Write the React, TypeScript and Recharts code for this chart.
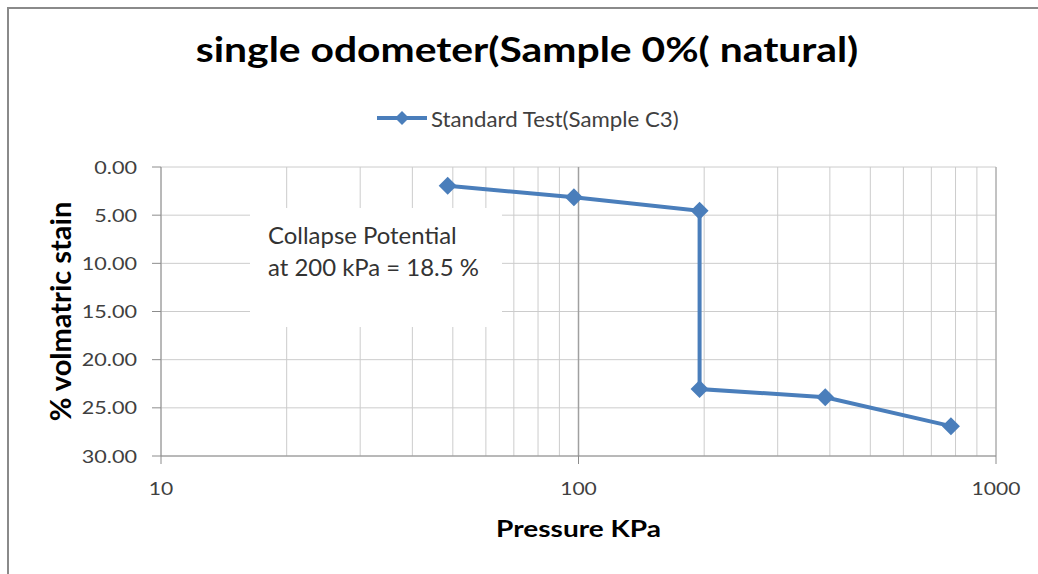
import React from 'react';
import {
  LineChart,
  Line,
  XAxis,
  YAxis,
  CartesianGrid,
  Legend,
  ReferenceLine,
} from 'recharts';

const pressures = [48.6, 97.5, 195, 195, 390, 780];
const strains = [1.95, 3.15, 4.55, 23.05, 23.9, 26.9];
const xTicks = [10, 20, 30, 40, 50, 60, 70, 80, 90, 100, 200, 300, 400, 500, 600, 700, 800, 900, 1000];
const xMajorTicks = [10, 100, 1000];
const yTicks = [0, 5, 10, 15, 20, 25, 30];
const seriesName = 'Standard Test(Sample C3)';
const titleText = 'single odometer(Sample 0%( natural)';
const xLabel = 'Pressure KPa';
const yLabel = '% volmatric stain';
const noteLines = ['Collapse Potential', 'at 200 kPa = 18.5 %'];

const data = pressures.map((p, i) => ({ pressure: p, strain: strains[i] }));

const FONT = 'Lato, "Open Sans", sans-serif';
const BLUE = '#4a7ebb';
const TICK_COLOR = '#404040';

const Diamond = (props: any) => {
  const { cx, cy } = props;
  if (cx == null || cy == null) return null;
  const r = 9;
  return (
    <polygon
      points={`${cx},${cy - r} ${cx + r},${cy} ${cx},${cy + r} ${cx - r},${cy}`}
      fill={BLUE}
      stroke="none"
    />
  );
};

const XTick = (props: any) => {
  const { x, y, payload } = props;
  const v = payload.value;
  if (!xMajorTicks.includes(v)) return null;
  return (
    <g>
      <line x1={x} x2={x} y1={y - 22} y2={y - 14} stroke="#8c8c8c" strokeWidth={1} />
      <text
        transform={`translate(${x},${y + 17}) scale(1.17,1)`}
        x={0}
        y={0}
        textAnchor="middle"
        fontSize={18}
        fill={TICK_COLOR}
        fontFamily={FONT}
      >
        {v}
      </text>
    </g>
  );
};

const YTick = (props: any) => {
  const { x, y, payload } = props;
  return (
    <text
      transform={`translate(${x},${y + 6.5}) scale(1.2,1)`}
      x={0}
      y={0}
      textAnchor="end"
      fontSize={18}
      fill={TICK_COLOR}
      fontFamily={FONT}
    >
      {Number(payload.value).toFixed(2)}
    </text>
  );
};

const XLabel = (props: any) => {
  const { viewBox } = props;
  const cx = viewBox.x + viewBox.width / 2;
  return (
    <text
      transform={`translate(${cx},537) scale(1.22,1)`}
      x={0}
      y={0}
      textAnchor="middle"
      fontSize={23}
      fontWeight={700}
      fill="#000"
      fontFamily={FONT}
    >
      {xLabel}
    </text>
  );
};

const LegendContent = () => (
  <div style={{ display: 'flex', justifyContent: 'center', alignItems: 'center', height: 24, fontFamily: FONT }}>
    <svg width={50} height={20} style={{ marginRight: 4 }}>
      <line x1={0} x2={50} y1={10} y2={10} stroke={BLUE} strokeWidth={4} />
      <polygon points="25,3 32,10 25,17 18,10" fill={BLUE} />
    </svg>
    <span style={{ fontSize: 21, color: TICK_COLOR, display: 'inline-block', transform: 'scaleX(1.06)', transformOrigin: 'left center', width: 248, whiteSpace: 'nowrap' }}>
      {seriesName}
    </span>
  </div>
);

export default function App() {
  return (
    <div style={{ position: 'absolute', left: 0, top: 0, width: 1038, height: 574, background: '#fff', overflow: 'hidden' }}>
      <div
        style={{
          position: 'absolute',
          left: 7,
          top: 7,
          width: 1040,
          height: 580,
          borderTop: '2px solid #8a8a8a',
          borderLeft: '2px solid #8a8a8a',
        }}
      />
      <div
        style={{
          position: 'absolute',
          left: 0,
          top: 29,
          width: 1055,
          textAlign: 'center',
          fontFamily: FONT,
          fontWeight: 700,
          fontSize: 34,
          color: '#000',
          lineHeight: '40px',
          whiteSpace: 'nowrap',
        }}
      >
        <span style={{ display: 'inline-block', transform: 'scaleX(1.2)', transformOrigin: 'center' }}>{titleText}</span>
      </div>
      <div style={{ position: 'absolute', left: 0, top: 0 }}>
        <LineChart width={1038} height={574} data={data} margin={{ top: 143, right: 42, bottom: 28, left: 40 }}>
          <CartesianGrid
            horizontal={{ stroke: '#8c8c8c' }}
            vertical={{ stroke: '#c4c4c4' }}
            strokeWidth={1}
          />
          <ReferenceLine x={100} stroke="#a0a0a0" strokeWidth={1.5} />
          <ReferenceLine x={1000} stroke="#a0a0a0" strokeWidth={1} />
          <XAxis
            dataKey="pressure"
            type="number"
            scale="log"
            domain={[10, 1000]}
            ticks={xTicks}
            interval={0}
            allowDataOverflow
            height={90}
            tickSize={8}
            tickMargin={14}
            tickLine={false}
            axisLine={{ stroke: '#8c8c8c' }}
            tick={<XTick />}
            label={<XLabel />}
          />
          <YAxis
            type="number"
            reversed
            domain={[0, 30]}
            ticks={yTicks}
            interval={0}
            width={121}
            tickSize={9}
            tickMargin={15}
            tickLine={{ stroke: '#8c8c8c' }}
            axisLine={{ stroke: '#8c8c8c' }}
            tick={<YTick />}
            label={{
              value: yLabel,
              angle: -90,
              position: 'insideLeft',
              offset: 21,
              style: { textAnchor: 'middle', fontFamily: FONT, fontWeight: 700, fontSize: 29, fill: '#000' },
            }}
          />
          <Legend
            verticalAlign="top"
            content={<LegendContent />}
            wrapperStyle={{ top: 106, left: 0, width: 1056, height: 24 }}
          />
          <Line
            type="linear"
            dataKey="strain"
            name={seriesName}
            stroke={BLUE}
            strokeWidth={4}
            dot={<Diamond />}
            activeDot={false}
            isAnimationActive={false}
          />
        </LineChart>
      </div>
      <div
        style={{
          position: 'absolute',
          left: 250,
          top: 208,
          width: 252,
          height: 119,
          background: '#fff',
          boxSizing: 'border-box',
          paddingLeft: 18,
          paddingTop: 11,
          fontFamily: FONT,
          fontSize: 23,
          lineHeight: '32px',
          color: '#333',
          whiteSpace: 'nowrap',
        }}
      >
        {noteLines.map((l) => (
          <div key={l} style={{ transform: 'scaleX(1.04)', transformOrigin: 'left center' }}>{l}</div>
        ))}
      </div>
    </div>
  );
}
